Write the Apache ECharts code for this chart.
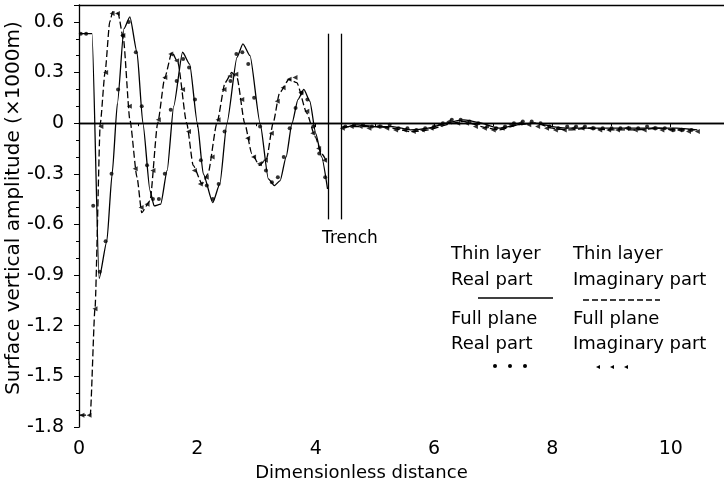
<!DOCTYPE html>
<html lang="en">
<head>
    <meta charset="utf-8" />
    <title>Surface vertical amplitude</title>
    <script type="text/javascript" src="https://cdn.jsdelivr.net/npm/echarts/dist/echarts.min.js"></script>
    <style>
        html, body { margin: 0; padding: 0; background: #fff; }
        #chart { width: 724px; height: 490px; }
    </style>
</head>
<body>
<div id="chart"></div>
<script type="text/javascript">
// thin layer, real part (solid line)
var thinReal = [[0,0.53],[0.22,0.53],[0.34,-0.92],[0.47,-0.7],[0.56,-0.3],[0.65,0.12],[0.76,0.56],[0.86,0.63],[0.98,0.42],[1.08,0.0],
    [1.2,-0.4],[1.27,-0.49],[1.38,-0.48],[1.49,-0.28],[1.6,0.1],[1.75,0.42],[1.87,0.35],[2.0,0.0],[2.1,-0.3],[2.26,-0.47],
    [2.38,-0.36],[2.5,0.0],[2.67,0.39],[2.77,0.47],[2.89,0.4],[3.06,0.0],[3.2,-0.33],[3.3,-0.37],[3.4,-0.34],[3.5,-0.2],
    [3.6,0.0],[3.7,0.14],[3.8,0.2],[3.9,0.13],[4.0,-0.06],[4.1,-0.2],[4.2,-0.39]];
var thinRealRight = [[4.45,-0.03],[4.7,-0.01],[5.0,-0.02],[5.3,-0.02],[5.6,-0.04],[5.9,-0.03],[6.2,0.0],[6.5,0.02],[6.8,0.0],[7.1,-0.03],
    [7.4,-0.01],[7.7,0.0],[8.0,-0.02],[8.3,-0.03],[8.6,-0.03],[9.0,-0.03],[9.4,-0.03],[9.8,-0.03],[10.1,-0.03],[10.45,-0.04]];

// thin layer, imaginary part (dashed line)
var thinImag = [[0,-1.73],[0.19,-1.73],[0.27,-1.1],[0.36,0.0],[0.44,0.3],[0.52,0.6],[0.57,0.66],[0.66,0.65],[0.75,0.5],[0.86,0.02],
    [0.98,-0.32],[1.06,-0.53],[1.2,-0.46],[1.33,0.0],[1.45,0.27],[1.57,0.42],[1.67,0.36],[1.82,0.0],[1.93,-0.25],[2.08,-0.36],
    [2.18,-0.3],[2.33,0.0],[2.47,0.24],[2.58,0.3],[2.67,0.27],[2.8,0.0],[2.92,-0.18],[3.05,-0.25],[3.17,-0.21],[3.28,0.0],
    [3.39,0.18],[3.55,0.26],[3.68,0.24],[3.85,0.06],[3.99,-0.08],[4.1,-0.18],[4.19,-0.23]];
var thinImagRight = [[4.45,-0.02],[4.7,-0.02],[5.0,-0.02],[5.3,-0.03],[5.6,-0.05],[5.9,-0.04],[6.2,-0.01],[6.5,0.01],[6.8,-0.02],[7.1,-0.04],
    [7.4,-0.01],[7.7,0.0],[8.0,-0.03],[8.3,-0.04],[8.6,-0.03],[9.0,-0.04],[9.4,-0.04],[9.8,-0.03],[10.1,-0.04],[10.45,-0.04]];

// full plane, real part (dots)
var fullReal = [[0.03,0.53],[0.12,0.53],[0.24,-0.49],[0.35,-0.88],[0.45,-0.7],[0.55,-0.3],[0.66,0.2],[0.74,0.52],[0.84,0.6],[0.96,0.42],
    [1.06,0.1],[1.15,-0.25],[1.25,-0.45],[1.35,-0.45],[1.45,-0.3],[1.55,0.08],[1.65,0.25],[1.76,0.38],[1.86,0.33],[1.96,0.14],
    [2.06,-0.22],[2.16,-0.37],[2.26,-0.45],[2.36,-0.36],[2.46,-0.05],[2.56,0.25],[2.66,0.41],[2.76,0.42],[2.86,0.35],[2.96,0.15],
    [3.06,-0.02],[3.16,-0.28],[3.26,-0.35],[3.36,-0.32],[3.46,-0.2],[3.56,-0.03],[3.66,0.09],[3.76,0.18],[3.86,0.14],[3.96,-0.02],
    [4.06,-0.18],[4.16,-0.32],
    [4.5,-0.02],[4.65,-0.01],[4.8,-0.01],[4.95,-0.02],[5.1,-0.02],[5.25,-0.01],[5.4,-0.03],[5.55,-0.03],[5.7,-0.04],[5.85,-0.03],
    [6.0,-0.02],[6.15,0.0],[6.3,0.02],[6.45,0.02],[6.6,0.01],[6.75,0.0],[6.9,-0.02],[7.05,-0.03],[7.2,-0.02],[7.35,0.0],
    [7.5,0.01],[7.65,0.01],[7.8,0.0],[7.95,-0.02],[8.1,-0.03],[8.25,-0.02],[8.4,-0.02],[8.55,-0.02],[8.7,-0.03],[8.85,-0.03],
    [9.0,-0.03],[9.15,-0.03],[9.3,-0.03],[9.45,-0.03],[9.6,-0.02],[9.75,-0.03],[9.9,-0.03],[10.05,-0.04],[10.2,-0.04],[10.35,-0.04]];

// full plane, imaginary part (triangles)
var fullImag = [[0.05,-1.73],[0.17,-1.73],[0.27,-1.1],[0.37,-0.02],[0.45,0.3],[0.56,0.65],[0.65,0.65],[0.74,0.52],[0.85,0.1],[0.95,-0.27],
    [1.05,-0.5],[1.15,-0.48],[1.25,-0.28],[1.34,0.02],[1.45,0.27],[1.55,0.41],[1.65,0.37],[1.75,0.2],[1.85,-0.05],[1.95,-0.28],
    [2.05,-0.36],[2.15,-0.32],[2.25,-0.2],[2.35,0.02],[2.45,0.2],[2.55,0.28],[2.65,0.29],[2.75,0.14],[2.85,-0.09],[2.95,-0.2],
    [3.05,-0.24],[3.15,-0.22],[3.25,-0.06],[3.35,0.13],[3.45,0.21],[3.55,0.26],[3.65,0.27],[3.75,0.18],[3.85,0.07],[3.95,-0.06],
    [4.05,-0.15],[4.15,-0.22],
    [4.45,-0.03],[4.6,-0.02],[4.75,-0.02],[4.9,-0.03],[5.05,-0.02],[5.2,-0.03],[5.35,-0.04],[5.5,-0.04],[5.65,-0.05],[5.8,-0.04],
    [5.95,-0.03],[6.1,-0.01],[6.25,0.01],[6.4,0.0],[6.55,0.0],[6.7,-0.02],[6.85,-0.03],[7.0,-0.04],[7.15,-0.03],[7.3,-0.01],
    [7.45,0.0],[7.6,-0.01],[7.75,-0.02],[7.9,-0.03],[8.05,-0.04],[8.2,-0.04],[8.35,-0.03],[8.5,-0.03],[8.65,-0.03],[8.8,-0.04],
    [8.95,-0.04],[9.1,-0.04],[9.25,-0.03],[9.4,-0.04],[9.55,-0.04],[9.7,-0.03],[9.85,-0.04],[10.0,-0.04],[10.15,-0.04],[10.3,-0.05],[10.45,-0.05]];

// trench walls
var trenchX = [4.22, 4.43];
var trenchTop = 0.53;
var trenchBottom = -0.57;

var FONT = 'DejaVu Sans';
var chart = echarts.init(document.getElementById('chart'));

var lineStyleSolid = {color: '#000', width: 1.3, type: 'solid'};
var lineStyleDash = {color: '#000', width: 1.3, type: [7, 3]};

function legendText(x, y, s) {
    return {type: 'text', left: x, top: y, style: {text: s, font: '18px ' + FONT, fill: '#000'}};
}

var option = {
    animation: false,
    backgroundColor: '#fff',
    grid: {left: 79, right: 0, top: 5, bottom: 63, outerBoundsMode: 'none', containLabel: false},
    xAxis: [{
        type: 'value', min: 0, max: 10.9, interval: 2,
        name: 'Dimensionless distance', nameLocation: 'middle', nameGap: 33,
        nameTextStyle: {fontFamily: FONT, fontSize: 18, color: '#000', padding: [0, 80, 0, 0]},
        axisLine: {lineStyle: {color: '#000', width: 1.3}},
        axisTick: {length: 4, lineStyle: {color: '#000'}},
        minorTick: {show: true, splitNumber: 2, length: 3, lineStyle: {color: '#000'}},
        axisLabel: {fontFamily: FONT, fontSize: 19, color: '#000', margin: 13, showMaxLabel: false},
        splitLine: {show: false}
    }, {
        type: 'value', min: 0, max: 10.9, position: 'top',
        axisLine: {show: true, lineStyle: {color: '#000', width: 1.3}},
        axisTick: {show: false}, axisLabel: {show: false}, splitLine: {show: false}
    }],
    yAxis: {
        type: 'value', min: -1.8, max: 0.7, interval: 0.3,
        axisLine: {show: true, lineStyle: {color: '#000', width: 1.3}},
        axisTick: {length: 5, lineStyle: {color: '#000'}},
        minorTick: {show: true, splitNumber: 3, length: 3, lineStyle: {color: '#000'}},
        axisLabel: {
            fontFamily: FONT, fontSize: 19, color: '#000', margin: 15, showMaxLabel: false,
            formatter: function (v) { return Math.abs(v) < 1e-9 ? '0' : v.toFixed(1); }
        },
        splitLine: {show: false}
    },
    series: [{
        name: 'Thin layer Real part', type: 'line', data: thinReal, smooth: 0.2, smoothMonotone: 'x',
        showSymbol: false, lineStyle: lineStyleSolid,
        markLine: {
            silent: true, symbol: 'none', label: {show: false},
            lineStyle: {color: '#000', width: 1.3, type: 'solid'},
            data: [
                {yAxis: 0},
                [{coord: [trenchX[0], trenchTop]}, {coord: [trenchX[0], trenchBottom]}],
                [{coord: [trenchX[1], trenchTop]}, {coord: [trenchX[1], trenchBottom]}]
            ]
        }
    }, {
        name: 'Thin layer Real part right', type: 'line', data: thinRealRight, smooth: 0.2,
        showSymbol: false, lineStyle: lineStyleSolid
    }, {
        name: 'Thin layer Imaginary part', type: 'line', data: thinImag, smooth: 0.2, smoothMonotone: 'x',
        showSymbol: false, lineStyle: lineStyleDash
    }, {
        name: 'Thin layer Imaginary part right', type: 'line', data: thinImagRight, smooth: 0.2,
        showSymbol: false, lineStyle: lineStyleDash
    }, {
        name: 'Full plane Real part', type: 'scatter', data: fullReal,
        symbol: 'circle', symbolSize: 4, itemStyle: {color: '#000'}
    }, {
        name: 'Full plane Imaginary part', type: 'scatter', data: fullImag,
        symbol: 'triangle', symbolSize: 5, symbolRotate: 90, itemStyle: {color: '#000'}
    }],
    graphic: [
        // y axis title
        {type: 'text', x: 14, y: 208, rotation: Math.PI / 2,
            style: {text: 'Surface vertical amplitude (\u00d71000m)', font: '20px ' + FONT, fill: '#000',
                align: 'center', verticalAlign: 'middle'}},
        {type: 'text', left: 322, top: 230, style: {text: 'Trench', font: '17px ' + FONT, fill: '#000'}},
        legendText(451, 245, 'Thin layer'),
        legendText(451, 271, 'Real part'),
        legendText(451, 310, 'Full plane'),
        legendText(451, 335, 'Real part'),
        legendText(573, 245, 'Thin layer'),
        legendText(573, 271, 'Imaginary part'),
        legendText(573, 310, 'Full plane'),
        legendText(573, 335, 'Imaginary part'),
        {type: 'line', shape: {x1: 478, y1: 298, x2: 553, y2: 298}, style: {stroke: '#000', lineWidth: 1.3}},
        {type: 'line', shape: {x1: 583, y1: 300, x2: 660, y2: 300}, style: {stroke: '#000', lineWidth: 1.3, lineDash: [6, 3]}},
        {type: 'circle', shape: {cx: 495, cy: 366, r: 2}, style: {fill: '#000'}},
        {type: 'circle', shape: {cx: 510, cy: 366, r: 2}, style: {fill: '#000'}},
        {type: 'circle', shape: {cx: 525, cy: 366, r: 2}, style: {fill: '#000'}},
        {type: 'polygon', shape: {points: [[596, 367], [600, 365], [600, 369]]}, style: {fill: '#000'}},
        {type: 'polygon', shape: {points: [[610, 367], [614, 365], [614, 369]]}, style: {fill: '#000'}},
        {type: 'polygon', shape: {points: [[624, 367], [628, 365], [628, 369]]}, style: {fill: '#000'}}
    ]
};

chart.setOption(option);
</script>
</body>
</html>
